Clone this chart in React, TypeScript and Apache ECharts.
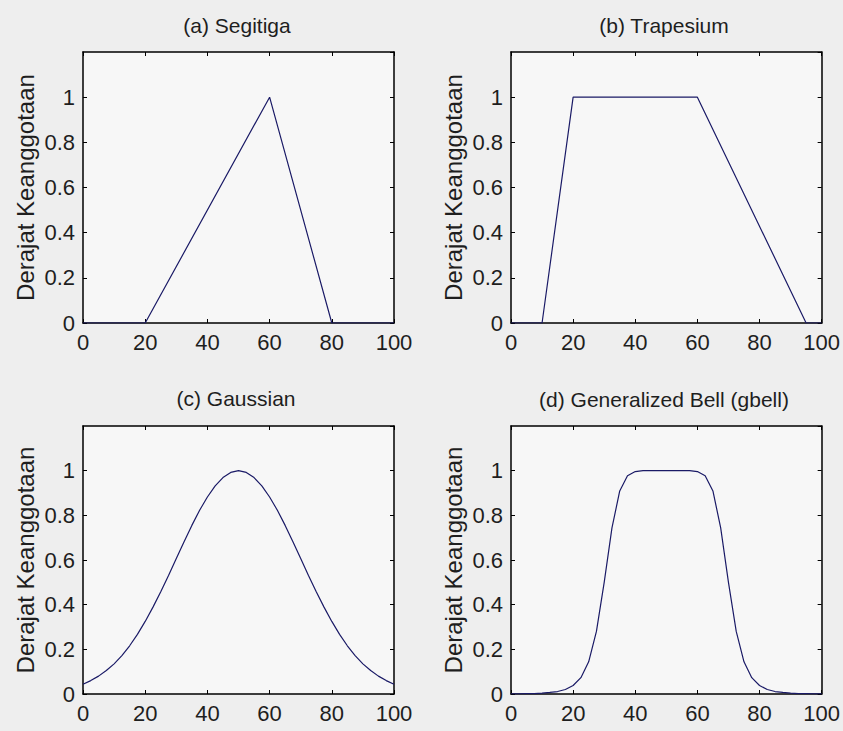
import React, { useEffect, useRef } from "react";
import * as echarts from "echarts";

// ---- Data ----
const TITLES = ["(a) Segitiga", "(b) Trapesium", "(c) Gaussian", "(d) Generalized Bell (gbell)"];
const Y_NAME = "Derajat Keanggotaan";

const segitigaX = [0, 20, 60, 80, 100];
const segitigaY = [0, 0, 1, 0, 0];

const trapesiumX = [0, 10, 20, 60, 95, 100];
const trapesiumY = [0, 0, 1, 1, 0, 0];

const curveX = [
  0, 2.5, 5, 7.5, 10, 12.5, 15, 17.5, 20, 22.5, 25, 27.5, 30, 32.5, 35, 37.5, 40, 42.5, 45, 47.5, 50,
  52.5, 55, 57.5, 60, 62.5, 65, 67.5, 70, 72.5, 75, 77.5, 80, 82.5, 85, 87.5, 90, 92.5, 95, 97.5, 100,
];
const gaussianY = [
  0.044, 0.06, 0.08, 0.105, 0.135, 0.172, 0.216, 0.267, 0.325, 0.389, 0.458, 0.531, 0.607, 0.682, 0.755, 0.823, 0.882, 0.932, 0.969, 0.992, 1.0,
  0.992, 0.969, 0.932, 0.882, 0.823, 0.755, 0.682, 0.607, 0.531, 0.458, 0.389, 0.325, 0.267, 0.216, 0.172, 0.135, 0.105, 0.08, 0.06, 0.044,
];
const gbellY = [
  0.001, 0.001, 0.002, 0.002, 0.004, 0.007, 0.011, 0.02, 0.038, 0.073, 0.144, 0.28, 0.5, 0.744, 0.909, 0.977, 0.996, 1.0, 1.0, 1.0, 1.0,
  1.0, 1.0, 1.0, 0.996, 0.977, 0.909, 0.744, 0.5, 0.28, 0.144, 0.073, 0.038, 0.02, 0.011, 0.007, 0.004, 0.002, 0.002, 0.001, 0.001,
];

const SERIES_X = [segitigaX, trapesiumX, curveX, curveX];
const SERIES_Y = [segitigaY, trapesiumY, gaussianY, gbellY];

// ---- Layout ----
const GRIDS = [
  { left: 83, top: 52, width: 311, height: 271 },
  { left: 511, top: 52, width: 311, height: 271 },
  { left: 83, top: 426, width: 311, height: 268 },
  { left: 511, top: 426, width: 311, height: 268 },
];
const TITLE_POS = [
  { x: 237, y: 25 },
  { x: 664, y: 25 },
  { x: 236, y: 398 },
  { x: 664, y: 399 },
];

const SANS = "'Liberation Sans', Arial, Helvetica, sans-serif";
const LINE_COLOR = "#1a1a66";
const TEXT_COLOR = "#1e1e1e";

export default function App() {
  const ref = useRef<HTMLDivElement>(null);

  useEffect(() => {
    if (!ref.current) return;
    const chart = echarts.init(ref.current, null, { renderer: "svg" });

    const axisLine = { show: true, onZero: false, lineStyle: { color: "#000", width: 1.5 } };
    const axisTick = { show: true, inside: true, length: 4, lineStyle: { color: "#000", width: 1 } };

    const xAxes: any[] = [];
    const yAxes: any[] = [];
    const series: any[] = [];

    GRIDS.forEach((_, i) => {
      xAxes.push({
        type: "value", gridIndex: i, min: 0, max: 100, interval: 20, position: "bottom",
        axisLine, axisTick,
        axisLabel: { fontFamily: SANS, fontSize: 22, color: TEXT_COLOR, margin: 8 },
        splitLine: { show: false },
      });
      xAxes.push({
        type: "value", gridIndex: i, min: 0, max: 100, interval: 20, position: "top",
        axisLine, axisTick, axisLabel: { show: false }, splitLine: { show: false },
      });
      yAxes.push({
        type: "value", gridIndex: i, min: 0, max: 1.2, interval: 0.2, position: "left",
        axisLine, axisTick,
        axisLabel: { fontFamily: SANS, fontSize: 22, color: TEXT_COLOR, margin: 8, showMaxLabel: false },
        splitLine: { show: false },
        name: Y_NAME, nameLocation: "middle", nameGap: 46,
        nameTextStyle: { fontFamily: SANS, fontSize: 24, color: TEXT_COLOR },
      });
      yAxes.push({
        type: "value", gridIndex: i, min: 0, max: 1.2, interval: 0.2, position: "right",
        axisLine, axisTick, axisLabel: { show: false }, splitLine: { show: false },
      });
      series.push({
        type: "line",
        xAxisIndex: 2 * i,
        yAxisIndex: 2 * i,
        data: SERIES_X[i].map((x, k) => [x, SERIES_Y[i][k]]),
        showSymbol: false,
        symbol: "none",
        lineStyle: { color: LINE_COLOR, width: 1.2 },
        z: 5,
      });
    });

    chart.setOption({
      animation: false,
      backgroundColor: "#eeeeee",
      grid: GRIDS.map((g) => ({ ...g, show: true, backgroundColor: "#f7f7f7", borderWidth: 0 })),
      xAxis: xAxes,
      yAxis: yAxes,
      series,
      graphic: TITLES.map((t, i) => ({
        type: "text",
        x: TITLE_POS[i].x,
        y: TITLE_POS[i].y,
        style: {
          text: t,
          textAlign: "center",
          textVerticalAlign: "middle",
          fontFamily: SANS,
          fontSize: 21,
          fill: TEXT_COLOR,
        },
      })),
    });

    return () => chart.dispose();
  }, []);

  return (
    <div
      ref={ref}
      style={{ position: "fixed", left: 0, top: 0, width: 843, height: 731 }}
    />
  );
}
